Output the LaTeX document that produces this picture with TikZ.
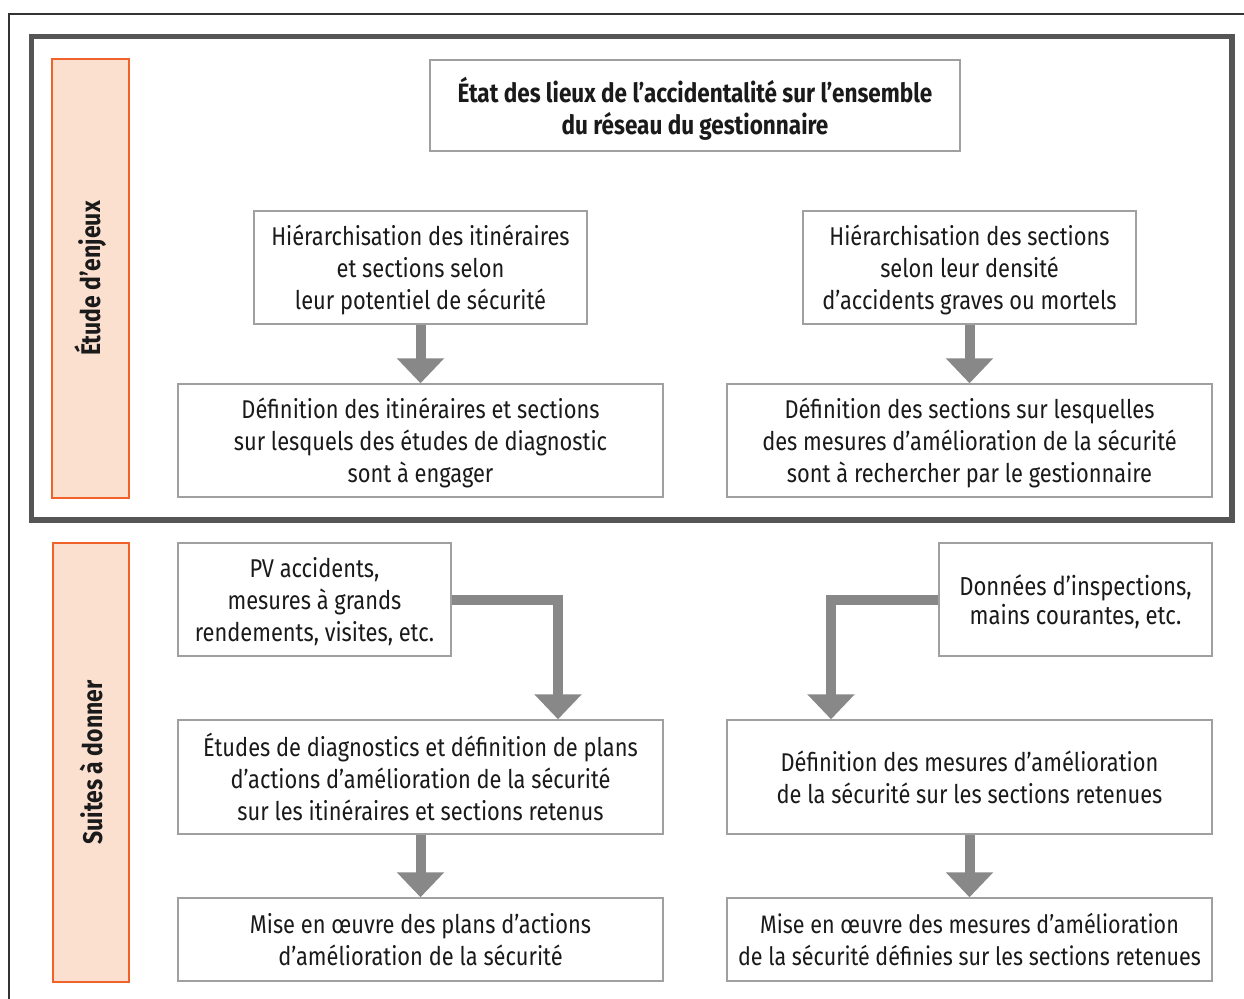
\documentclass[tikz,border=0pt]{standalone}
\usepackage{fontspec}
\setmainfont{Fira Sans}[FakeStretch=0.85]
\usetikzlibrary{arrows.meta}
\definecolor{boxgray}{HTML}{A0A0A0}
\definecolor{framegray}{HTML}{555555}
\definecolor{outergray}{HTML}{333333}
\definecolor{arrowgray}{HTML}{888888}
\definecolor{bandfill}{HTML}{FBE0D0}
\definecolor{bandline}{HTML}{F0622A}
\definecolor{txt}{HTML}{1A1A1A}
\tikzset{
  box/.style={draw=boxgray, line width=1.5pt, fill=white, inner sep=0pt, align=center,
    text=txt, font=\fontsize{25.7}{32}\selectfont, text depth=0pt},
  band/.style={draw=bandline, line width=1.8pt, fill=bandfill, inner sep=0pt},
  bandlabel/.style={rotate=90, text=txt, font=\bfseries\fontsize{27}{30}\selectfont},
  bigarrow/.style={draw=arrowgray, line width=10pt,
    -{Triangle[width=46pt,length=25pt]}, arrowgray},
}
\begin{document}
\begin{tikzpicture}[x=1pt,y=-1pt]
\useasboundingbox (0,0) rectangle (1244,998);
\fill[white] (0,0) rectangle (1244,998);
% outer frame (top and left only visible)
\draw[outergray, line width=2pt] (9,1000) -- (9,14) -- (1246,14);
% inner thick frame
\draw[framegray, line width=5.5pt] (31.5,36.5) rectangle (1232,520);
% side bands
\node[band, minimum width=77pt, minimum height=439pt] (E) at (90.5,278.5) {};
\node[bandlabel] (Elab) at (E.center) {Étude d’enjeux};
\node[band, minimum width=76pt, minimum height=439pt] (S) at (91,762.5) {};
\node[bandlabel] (Slab) at (S.center) {Suites à donner};
% boxes
\node[box, minimum width=530pt, minimum height=91pt, font=\bfseries\fontsize{26.5}{32}\selectfont] (T) at (695,105.5)
  {État des lieux de l’accidentalité sur l’ensemble\\du réseau du gestionnaire};
\node[box, minimum width=333pt, minimum height=113pt] (A1) at (420.5,267.5)
  {Hiérarchisation des itinéraires\\et sections selon\\leur potentiel de sécurité};
\node[box, minimum width=333pt, minimum height=113pt] (B1) at (969.5,267.5)
  {Hiérarchisation des sections\\selon leur densité\\d’accidents graves ou mortels};
\node[box, minimum width=485pt, minimum height=113pt] (A2) at (420.5,440.5)
  {Définition des itinéraires et sections\\sur lesquels des études de diagnostic\\sont à engager};
\node[box, minimum width=485pt, minimum height=113pt] (B2) at (969.5,440.5)
  {Définition des sections sur lesquelles\\des mesures d’amélioration de la sécurité\\sont à rechercher par le gestionnaire};
\node[box, minimum width=273pt, minimum height=113pt] (C1) at (314.5,599.5)
  {PV accidents,\\mesures à grands\\rendements, visites, etc.};
\node[box, minimum width=273pt, minimum height=113pt, font=\fontsize{26}{29}\selectfont] (D1) at (1075.5,599.5)
  {Données d’inspections,\\mains courantes, etc.};
\node[box, minimum width=485pt, minimum height=114pt] (C2) at (420.5,777)
  {Études de diagnostics et définition de plans\\d’actions d’amélioration de la sécurité\\sur les itinéraires et sections retenus};
\node[box, minimum width=485pt, minimum height=114pt] (D2) at (969.5,777)
  {Définition des mesures d’amélioration\\de la sécurité sur les sections retenues};
\node[box, minimum width=485pt, minimum height=83pt] (C3) at (420.5,939.5)
  {Mise en œuvre des plans d’actions\\d’amélioration de la sécurité};
\node[box, minimum width=485pt, minimum height=83pt, font=\fontsize{25.3}{32}\selectfont] (D3) at (969.5,939.5)
  {Mise en œuvre des mesures d’amélioration\\de la sécurité définies sur les sections retenues};
% arrows
\draw[bigarrow] (A1.south) -- (A2.north);
\draw[bigarrow] (B1.south) -- (B2.north);
\draw[bigarrow] (C2.south) -- (C3.north);
\draw[bigarrow] (D2.south) -- (D3.north);
\draw[bigarrow] (C1.east) -| ([xshift=137.5pt]C2.north);
\draw[bigarrow] (D1.west) -| ([xshift=-138.5pt]D2.north);
\end{tikzpicture}
\end{document}
